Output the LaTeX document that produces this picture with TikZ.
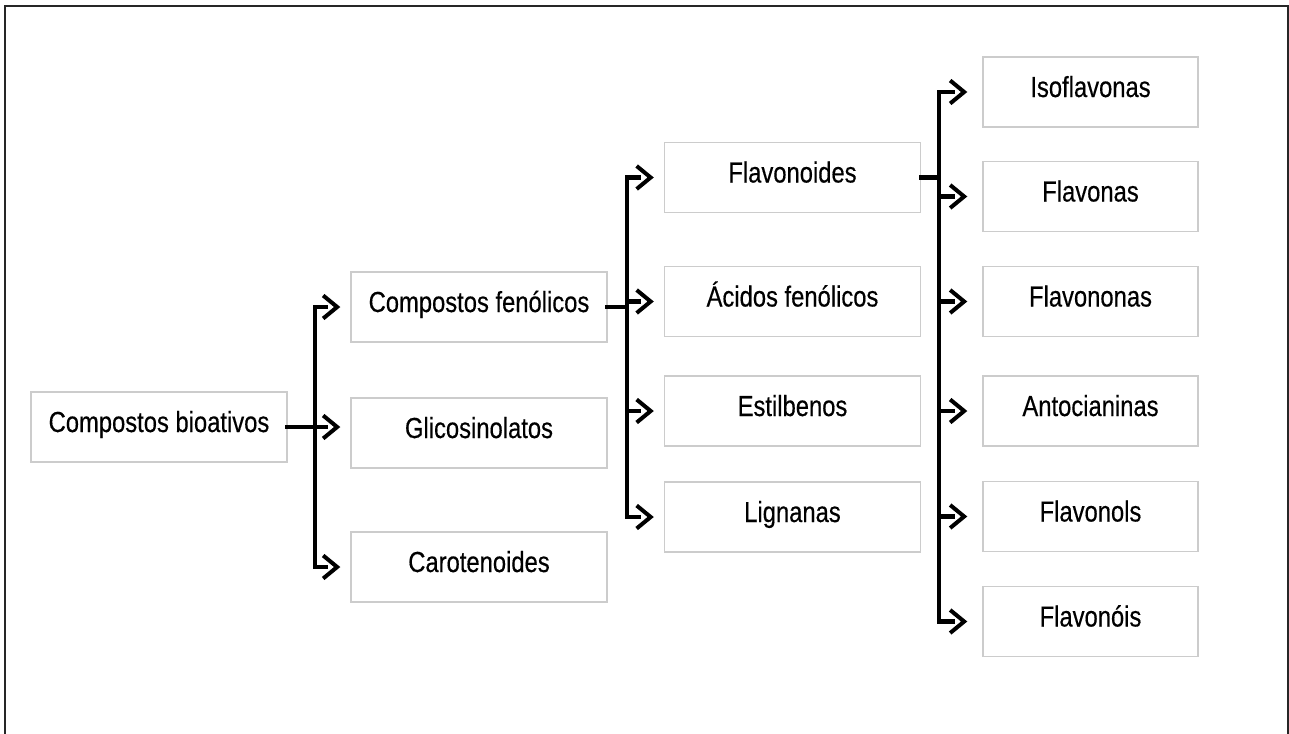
\documentclass[tikz,border=0pt]{standalone}
\usepackage{fontspec}
\setmainfont{Liberation Sans}[FakeStretch=0.82, FakeBold=0.4]
\usepackage{tikz}
\usetikzlibrary{arrows.meta,positioning,calc}

\begin{document}
\begin{tikzpicture}[
    box/.style={
        rectangle, draw=gray!40, line width=0.8pt, fill=white,
        minimum width=5.12cm, minimum height=1.4cm,
        inner ysep=0pt, text height=0.8cm, text depth=0.6cm,
        font=\fontsize{16.5pt}{19pt}\selectfont
    },
    leaf/.style={box, minimum width=4.3cm},
    bus/.style={line width=0.09cm, line cap=rect},
    arr/.style={line width=0.09cm, shorten >=#1+0.25cm,
        postaction={draw=white, line width=0.2pt,
            shorten <=0.4cm, shorten >=#1,
            -{Straight Barb[length=0.28cm, width=0.46cm, line width=0.08cm, color=black]}}},
    arr/.default=0.2cm,
    frame/.style={line width=0.04cm, black!85}
]
\useasboundingbox (0,0) rectangle (25.78,-14.66);

% moldura
\draw[frame] (0.1,-15) |- (25.75,-0.12) -- (25.75,-15);

% caixas
\node[box] (cb) at (3.18,-8.54) {Compostos bioativos};

\node[box] (cf) at (9.58,-6.14) {Compostos fenólicos};
\node[box] (gl) at (9.58,-8.66) {Glicosinolatos};
\node[box] (ca) at (9.58,-11.34) {Carotenoides};

\node[box] (fl) at (15.85,-3.55) {Flavonoides};
\node[box] (ac) at (15.85,-6.03) {Ácidos fenólicos};
\node[box] (es) at (15.85,-8.22) {Estilbenos};
\node[box] (li) at (15.85,-10.34) {Lignanas};

\node[leaf] (is) at (21.81,-1.84) {Isoflavonas};
\node[leaf] (fs) at (21.81,-3.93) {Flavonas};
\node[leaf] (fn) at (21.81,-6.03) {Flavononas};
\node[leaf] (an) at (21.81,-8.22) {Antocianinas};
\node[leaf] (fo) at (21.81,-10.33) {Flavonols};
\node[leaf] (fi) at (21.81,-12.43) {Flavonóis};

% barramentos
\coordinate (b1) at (6.30,0);
\coordinate (b2) at (12.54,0);
\coordinate (b3) at (18.78,0);

\draw[bus] (cb.east) -- (b1 |- cb.east);
\draw[bus] (b1 |- cf.west) -- (b1 |- ca.west);
\draw[arr] (b1 |- cf.west) -- (cf.west);
\draw[arr] (b1 |- cb.east) -- (gl.west |- cb.east);
\draw[arr] (b1 |- ca.west) -- (ca.west);

\draw[bus] (cf.east) -- (b2 |- cf.east);
\draw[bus] (b2 |- fl.west) -- (b2 |- li.west);
\foreach \n in {fl,ac,es,li}
    \draw[arr] (b2 |- \n.west) -- (\n.west);

\draw[bus] (fl.east) -- (b3 |- fl.east);
\draw[bus] (b3 |- is.west) -- (b3 |- fi.west);
\foreach \n in {is,fs,fn,an,fo,fi}
    \draw[arr=0.3cm] (b3 |- \n.west) -- (\n.west);

\end{tikzpicture}
\end{document}
